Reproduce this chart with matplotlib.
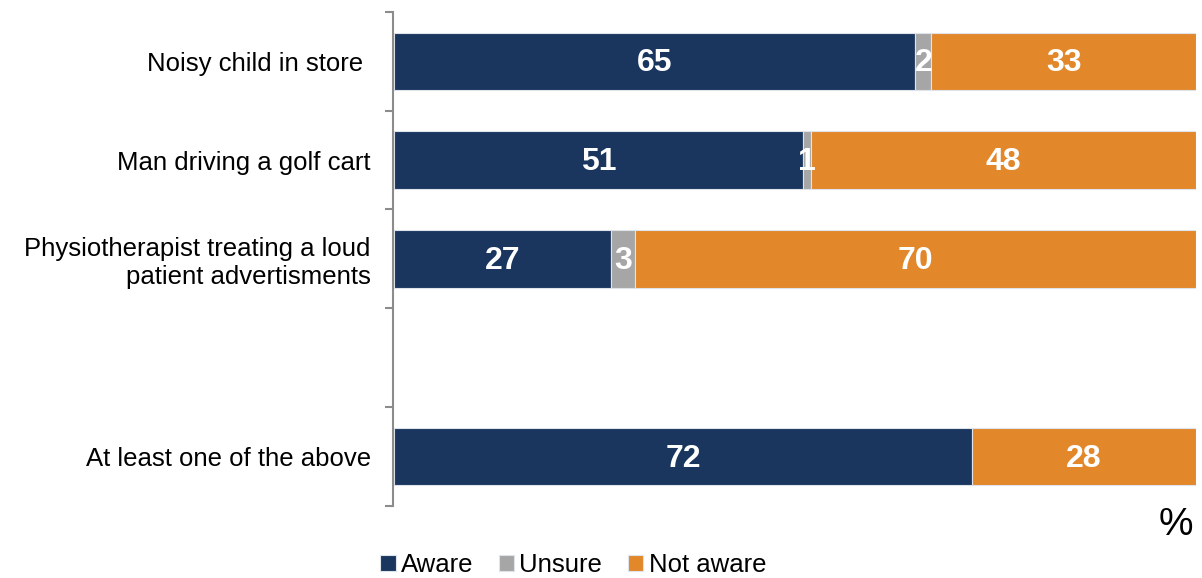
import matplotlib.pyplot as plt
import numpy as np

plt.rcParams['font.family'] = ['Liberation Sans', 'DejaVu Sans']

categories = ['Noisy child in store ', 'Man driving a golf cart',
              'Physiotherapist treating a loud\npatient advertisments', '',
              'At least one of the above']
aware = [65, 51, 27, 0, 72]
unsure = [2, 1, 3, 0, 0]
not_aware = [33, 48, 70, 0, 28]

series = [('Aware', aware, '#1a365e'),
          ('Unsure', unsure, '#a6a6a6'),
          ('Not aware', not_aware, '#e2872a')]

fig = plt.figure(figsize=(12.02, 5.78), dpi=100)
ax = fig.add_axes([0.328, 0.1246, 0.667, 0.855])

y = np.arange(len(categories))
left = np.zeros(len(categories))
for name, vals, col in series:
    vals = np.array(vals, dtype=float)
    keep = vals > 0
    ax.barh(y[keep], vals[keep], left=left[keep], height=0.58, color=col,
            label=name, edgecolor='#dfe3ea', linewidth=0.8)
    for yi, val, l in zip(y[keep], vals[keep], left[keep]):
        ax.text(l + val / 2, yi + 0.02, f'{val:.0f}', ha='center', va='center',
                color='white', fontsize=23, fontweight='bold')
    left = left + vals

ax.set_xlim(0, 100)
ax.set_ylim(len(categories) - 0.5, -0.5)
ax.set_yticks(y)
ax.set_yticklabels(categories)
ax.set_yticks(np.arange(len(categories) + 1) - 0.5, minor=True)
ax.tick_params(axis='y', which='major', length=0, pad=16, labelsize=18.5)
ax.tick_params(axis='y', which='minor', length=6, width=1.5, color='#8c8c8c')
ax.set_xticks([])
for s in ['top', 'right', 'bottom']:
    ax.spines[s].set_visible(False)
ax.spines['left'].set_color('#8c8c8c')
ax.spines['left'].set_linewidth(1.5)
ax.spines['left'].set_position(('outward', 1))

fig.text(0.993, 0.06, '%', ha='right', va='bottom', fontsize=28)
fig.legend(loc='lower left', bbox_to_anchor=(0.297, -0.038), ncol=3,
           frameon=False, fontsize=18.5, handlelength=0.6, handleheight=0.6,
           handletextpad=0.2, columnspacing=1.0)

fig.savefig('out.png', dpi=100)
